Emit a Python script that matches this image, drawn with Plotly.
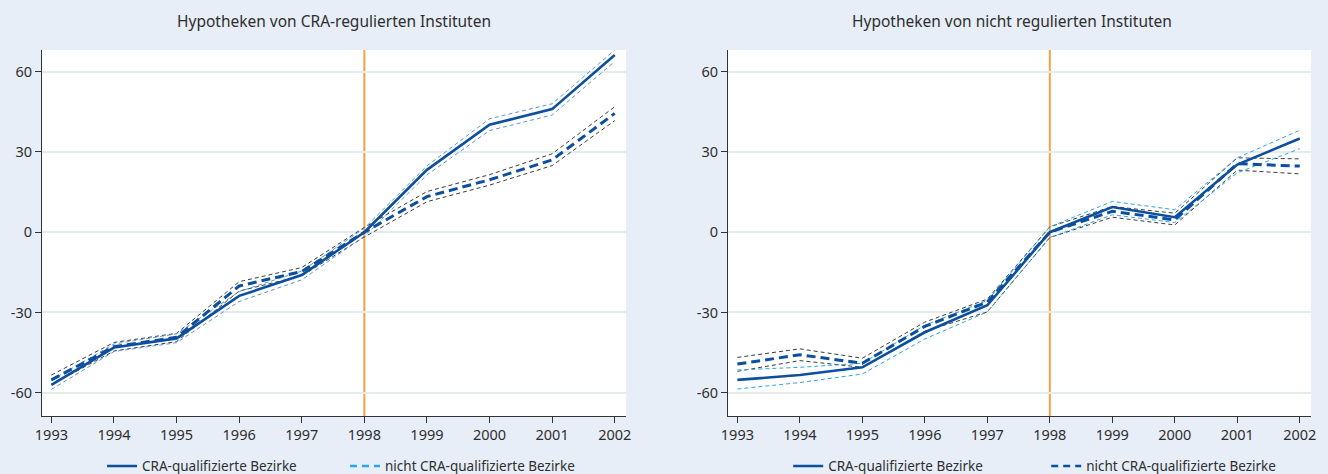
import plotly.graph_objects as go

years = [1993, 1994, 1995, 1996, 1997, 1998, 1999, 2000, 2001, 2002]
event_year = 1998

# Left panel: Hypotheken von CRA-regulierten Instituten
l_cra = [-57.1, -43.1, -39.7, -23.8, -16.0, 0.0, 23.3, 40.2, 46.0, 66.2]
l_cra_hi = [-55.3, -41.8, -38.0, -22.2, -14.5, 1.5, 24.8, 42.4, 48.0, 68.1]
l_cra_lo = [-58.8, -44.6, -41.3, -25.9, -17.8, -1.5, 21.4, 38.0, 43.8, 63.8]
l_non = [-55.2, -42.8, -39.3, -20.1, -14.7, 0.0, 13.3, 19.6, 27.0, 44.4]
l_non_hi = [-53.4, -41.2, -37.8, -18.5, -13.2, 1.8, 15.2, 21.5, 29.3, 46.9]
l_non_lo = [-57.0, -44.4, -40.9, -22.0, -16.3, -1.8, 11.4, 17.6, 24.9, 41.7]

# Right panel: Hypotheken von nicht regulierten Instituten
r_cra = [-55.2, -53.4, -50.5, -37.4, -27.3, 0.0, 9.4, 5.6, 25.3, 35.0]
r_cra_hi = [-51.5, -50.5, -49.0, -34.8, -25.5, 2.0, 11.5, 8.4, 27.8, 38.1]
r_cra_lo = [-58.6, -56.2, -53.0, -39.9, -29.8, -2.0, 6.5, 3.6, 22.2, 31.2]
r_non = [-49.3, -45.8, -49.0, -35.2, -26.1, 0.0, 7.8, 4.6, 25.6, 24.7]
r_non_hi = [-46.8, -43.6, -47.1, -33.6, -25.0, 2.0, 9.6, 7.1, 27.8, 27.4]
r_non_lo = [-52.0, -48.0, -50.5, -37.0, -29.8, -2.0, 5.6, 2.7, 23.2, 21.8]

y_ticks = [-60, -30, 0, 30, 60]
y_ticktext = ["-60", "-30", "0", "30", "60"]

titles = ["Hypotheken von CRA-regulierten Instituten", "Hypotheken von nicht regulierten Instituten"]
legend_names = ["CRA-qualifizierte Bezirke", "nicht CRA-qualifizierte Bezirke"]

MAIN = "#0B4F9E"
LBLUE_L = "#5E93DA"
LBLUE_R = "#2BA6E6"
GRAY = "#3C3C3C"
ORANGE = "#F5A247"
BG = "#E7EEF8"
GRID = "#E3ECEA"
FONT = "Noto Sans"
TXT = "#2E2E2E"

fig = go.Figure()


def add_panel(xa, ya, cra, cra_hi, cra_lo, non, non_hi, non_lo, band_color):
    for arr in (non_hi, non_lo):
        fig.add_trace(go.Scatter(x=years, y=arr, mode="lines", xaxis=xa, yaxis=ya,
                                 line=dict(color=GRAY, width=1, dash="4px,3px"),
                                 showlegend=False, hoverinfo="skip"))
    for arr in (cra_hi, cra_lo):
        fig.add_trace(go.Scatter(x=years, y=arr, mode="lines", xaxis=xa, yaxis=ya,
                                 line=dict(color=band_color, width=1, dash="4px,3px"),
                                 showlegend=False, hoverinfo="skip"))
    fig.add_trace(go.Scatter(x=years, y=non, mode="lines", xaxis=xa, yaxis=ya,
                             line=dict(color=MAIN, width=3, dash="9px,5px"),
                             showlegend=False))
    fig.add_trace(go.Scatter(x=years, y=cra, mode="lines", xaxis=xa, yaxis=ya,
                             line=dict(color=MAIN, width=2.6),
                             showlegend=False))


add_panel("x", "y", l_cra, l_cra_hi, l_cra_lo, l_non, l_non_hi, l_non_lo, LBLUE_L)
add_panel("x2", "y2", r_cra, r_cra_hi, r_cra_lo, r_non, r_non_hi, r_non_lo, LBLUE_R)

# legend entries
fig.add_trace(go.Scatter(x=[None], y=[None], mode="lines", name=legend_names[0],
                         line=dict(color=MAIN, width=2.5), legend="legend"))
fig.add_trace(go.Scatter(x=[None], y=[None], mode="lines", name=legend_names[1],
                         line=dict(color=LBLUE_R, width=2.5, dash="7px,5px"), legend="legend"))
fig.add_trace(go.Scatter(x=[None], y=[None], mode="lines", name=legend_names[0],
                         line=dict(color=MAIN, width=2.5), legend="legend2", xaxis="x2", yaxis="y2"))
fig.add_trace(go.Scatter(x=[None], y=[None], mode="lines", name=legend_names[1],
                         line=dict(color=MAIN, width=2.5, dash="7px,5px"), legend="legend2", xaxis="x2", yaxis="y2"))

xr = [1992.85, 2002.18]
yr = [-68.7, 68.1]
axis_common = dict(showline=True, linecolor="#333333", linewidth=1, ticks="outside",
                   ticklen=6, tickcolor="#333333", tickfont=dict(family=FONT, size=14.5, color=TXT),
                   zeroline=False, automargin=False)

fig.update_layout(
    width=1328, height=474,
    paper_bgcolor=BG, plot_bgcolor="white",
    margin=dict(l=42, r=17, t=50, b=58, autoexpand=False),
    font=dict(family=FONT, color=TXT),
    xaxis=dict(domain=[0, 0.4602], range=xr, tickvals=years, showgrid=False, anchor="y", **axis_common),
    xaxis2=dict(domain=[0.5406, 1], range=xr, tickvals=years, showgrid=False, anchor="y2", **axis_common),
    yaxis=dict(range=yr, tickvals=y_ticks, ticktext=y_ticktext, showgrid=True, gridcolor=GRID,
               gridwidth=2, anchor="x", **axis_common),
    yaxis2=dict(range=yr, tickvals=y_ticks, ticktext=y_ticktext, showgrid=True, gridcolor=GRID,
                gridwidth=2, anchor="x2", **axis_common),
    legend=dict(orientation="h", x=0.0473, xanchor="left", y=-0.137, yanchor="middle",
                bgcolor="rgba(0,0,0,0)", font=dict(family=FONT, size=13.5, color=TXT),
                entrywidth=198),
    legend2=dict(orientation="h", x=0.588, xanchor="left", y=-0.137, yanchor="middle",
                 bgcolor="rgba(0,0,0,0)", font=dict(family=FONT, size=13.5, color=TXT),
                 entrywidth=213),
    shapes=[
        dict(type="line", xref="x", yref="y domain", x0=event_year, x1=event_year, y0=0, y1=1,
             line=dict(color=ORANGE, width=2), layer="below"),
        dict(type="line", xref="x2", yref="y2 domain", x0=event_year, x1=event_year, y0=0, y1=1,
             line=dict(color=ORANGE, width=2), layer="below"),
    ],
    annotations=[
        dict(text=titles[0], xref="paper", yref="paper", x=0.2302, y=1.0, yshift=29,
             xanchor="center", yanchor="middle", showarrow=False,
             font=dict(family=FONT, size=15.5, color=TXT)),
        dict(text=titles[1], xref="paper", yref="paper", x=0.7643, y=1.0, yshift=29,
             xanchor="center", yanchor="middle", showarrow=False,
             font=dict(family=FONT, size=15.5, color=TXT)),
    ],
)

fig.write_html("out.html", config={"displayModeBar": False},
               post_script="document.body.style.margin='0';")
